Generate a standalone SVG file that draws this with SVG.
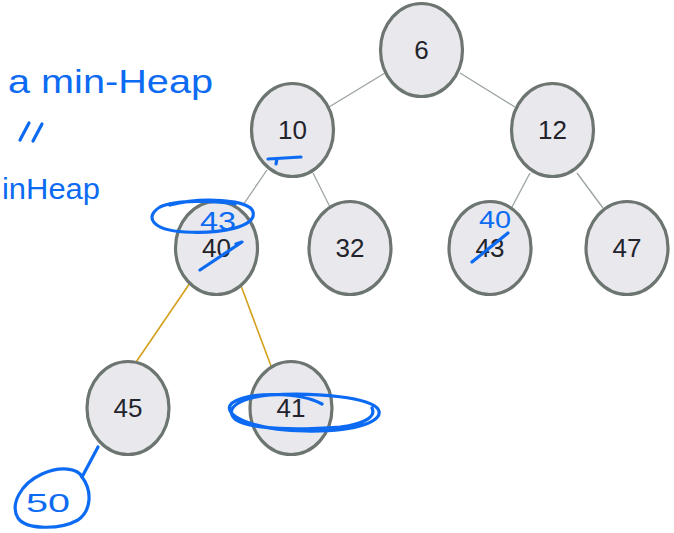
<svg xmlns="http://www.w3.org/2000/svg" width="674" height="533" viewBox="0 0 674 533">
  <style>
    .node ellipse { fill: #e8e8ed; stroke: #6d7570; stroke-width: 3.2; }
    .node text { font-family: "Liberation Sans", Arial, sans-serif; font-size: 26px; fill: #23232b; text-anchor: middle; }
    .edge { stroke: #9aa39d; stroke-width: 1.3; }
    .edge-hl { stroke: #d4a01c; stroke-width: 1.6; }
    .ink { fill: none; stroke: #0c6bf2; stroke-width: 3.2; stroke-linecap: round; stroke-linejoin: round; }
    .ink-text { font-family: "Liberation Sans", Arial, sans-serif; fill: #0c6bf2; }
  </style>
  <rect width="674" height="533" fill="#ffffff"/>

  <!-- connectors -->
  <g id="connectors">
    <line class="edge" x1="385" y1="73" x2="329" y2="107"/>
    <line class="edge" x1="460" y1="73" x2="515" y2="107"/>
    <line class="edge" x1="267" y1="170" x2="243" y2="205"/>
    <line class="edge" x1="313" y1="173" x2="330" y2="207"/>
    <line class="edge" x1="530" y1="173" x2="512" y2="207"/>
    <line class="edge" x1="577" y1="173" x2="603" y2="208"/>
    <line class="edge-hl" x1="190" y1="283" x2="132" y2="368"/>
    <line class="edge-hl" x1="240" y1="283" x2="271" y2="366"/>
  </g>

  <!-- nodes -->
  <g id="node-6" class="node"><ellipse cx="421.5" cy="50" rx="41" ry="46.5"/><text x="421.5" y="59">6</text></g>
  <g id="node-10" class="node"><ellipse cx="292.5" cy="130" rx="41" ry="46.5"/><text x="292.5" y="139">10</text></g>
  <g id="node-12" class="node"><ellipse cx="552.5" cy="130" rx="41" ry="46.5"/><text x="552.5" y="139">12</text></g>
  <g id="node-40" class="node"><ellipse cx="216.5" cy="248" rx="41" ry="46.5"/><text x="216.5" y="257">40</text></g>
  <g id="node-32" class="node"><ellipse cx="350" cy="248" rx="41" ry="46.5"/><text x="350" y="257">32</text></g>
  <g id="node-43" class="node"><ellipse cx="490" cy="248" rx="41" ry="46.5"/><text x="490" y="257">43</text></g>
  <g id="node-47" class="node"><ellipse cx="627" cy="248" rx="41" ry="46.5"/><text x="627" y="257">47</text></g>
  <g id="node-45" class="node"><ellipse cx="128" cy="408" rx="41" ry="46.5"/><text x="128" y="417">45</text></g>
  <g id="node-41" class="node"><ellipse cx="291" cy="408" rx="41" ry="46.5"/><text x="291" y="417">41</text></g>

  <!-- handwritten notes -->
  <g id="notes">
    <text class="ink-text" x="8" y="93" font-size="34" textLength="205" lengthAdjust="spacingAndGlyphs">a min-Heap</text>
    <path class="ink" stroke-width="4" d="M20 140 L29 123 M33 141 L42 124"/>
    <text class="ink-text" x="2" y="199" font-size="30" textLength="98" lengthAdjust="spacingAndGlyphs">inHeap</text>

    <!-- underline under 10 -->
    <path class="ink" d="M268 159 L301 157 M277 159 L276 164"/>

    <!-- 40 replaced by 43 -->
    <path class="ink" d="M170 205 C200 197 250 199 253 212 C257 227 220 234 185 232 C150 230 145 216 160 207 C175 200 215 200 235 204"/>
    <path class="ink" d="M200 270 L242 242 L236 244"/>
    <text class="ink-text" x="200" y="230" font-size="26" textLength="36" lengthAdjust="spacingAndGlyphs">43</text>

    <!-- 43 replaced by 40 -->
    <path class="ink" d="M472 262 L508 233"/>
    <text class="ink-text" x="479" y="228" font-size="24" textLength="32" lengthAdjust="spacingAndGlyphs">40</text>

    <!-- loops round 41 -->
    <path class="ink" d="M322 404 C300 392 250 391 232 403 C220 414 250 430 305 431 C360 432 385 420 378 409 C370 398 320 392 270 395 C236 398 224 410 236 420 C252 430 300 430 340 427 C366 424 376 416 372 408"/>

    <!-- 50 hung under 45 -->
    <path class="ink" d="M98 447 L82 477"/>
    <path class="ink" d="M82 477 C78 468 60 466 42 474 C20 484 10 505 18 518 C26 530 60 530 78 520 C92 510 92 490 82 477"/>
    <text class="ink-text" x="26" y="512" font-size="26" textLength="44" lengthAdjust="spacingAndGlyphs">50</text>
  </g>
</svg>
